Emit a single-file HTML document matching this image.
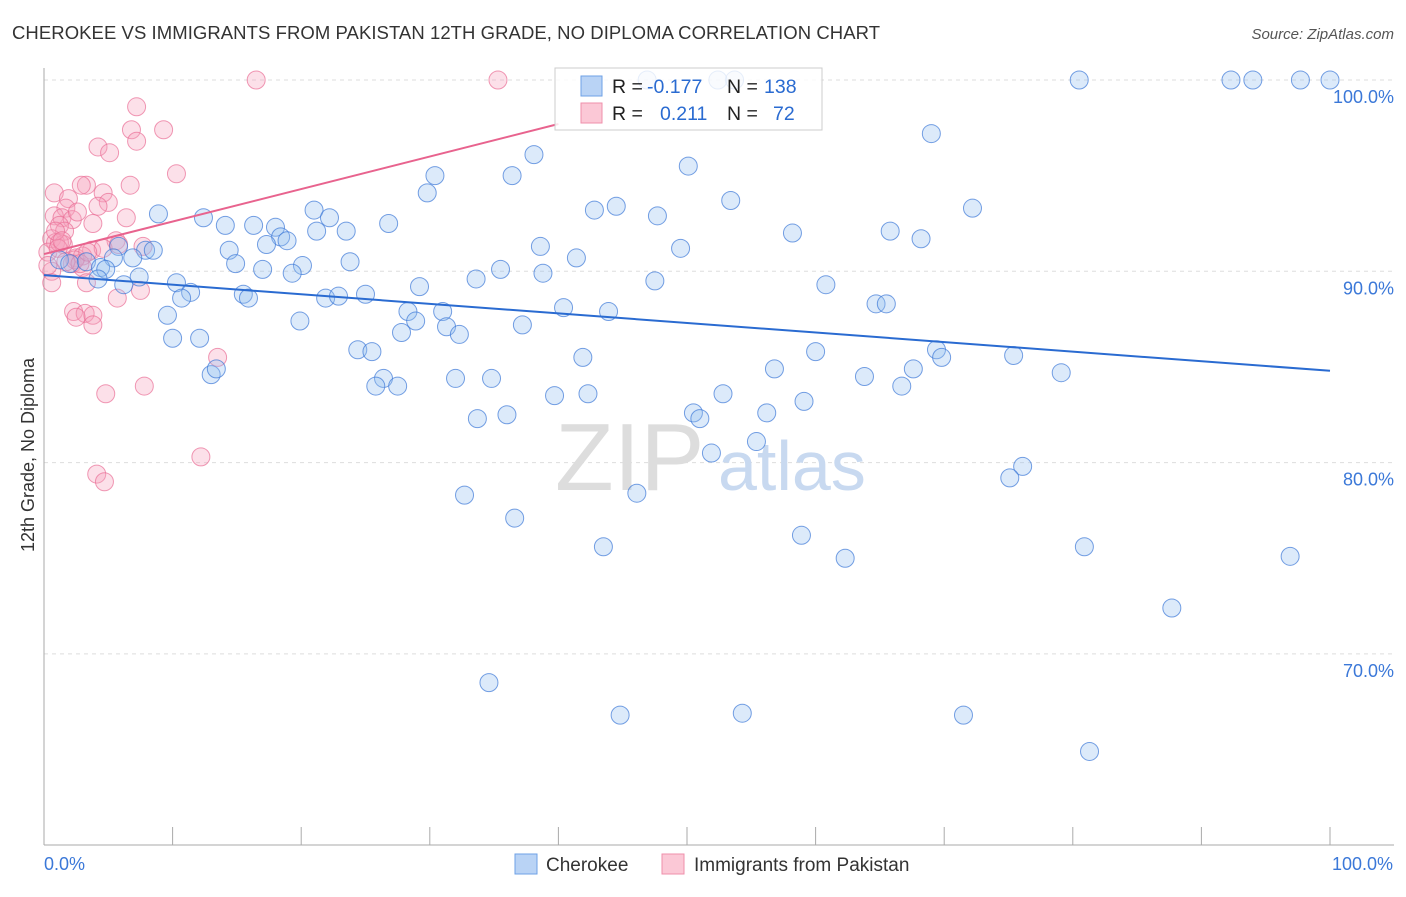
<!DOCTYPE html>
<html><head><meta charset="utf-8"><style>
body{margin:0;background:#fff;font-family:"Liberation Sans",sans-serif}
svg text{font-family:"Liberation Sans",sans-serif}
</style></head><body>
<svg id="chart" width="1406" height="892">
<text x="12" y="39" font-size="18.5" textLength="868" fill="#333">CHEROKEE VS IMMIGRANTS FROM PAKISTAN 12TH GRADE, NO DIPLOMA CORRELATION CHART</text>
<text x="1394" y="39" font-size="15" fill="#555" font-style="italic" text-anchor="end">Source: ZipAtlas.com</text>
<text x="34" y="455" font-size="18" fill="#333" text-anchor="middle" transform="rotate(-90 34 455)">12th Grade, No Diploma</text>
<g id="grid"></g>
<g id="axes"></g>
<text x="555" y="490" font-size="96" fill="#ddd" font-family="Liberation Serif">ZIP</text>
<text x="718" y="490" font-size="70" fill="#c8d9f0">atlas</text>
<g id="pts"></g>
<g id="lines"></g>
<g>
<rect x="555" y="68" width="267" height="62" fill="rgba(255,255,255,0.82)" stroke="#ccc"/>
<rect x="581" y="76" width="21" height="20" fill="#b9d3f5" stroke="#6ea0e6"/>
<rect x="581" y="103" width="21" height="20" fill="#fbc8d6" stroke="#ef8fab"/>
<g font-size="19.5">
<text x="612" y="93" fill="#222">R =</text><text x="647" y="93" fill="#2a6bd1">-0.177</text>
<text x="727" y="93" fill="#222">N =</text><text x="764" y="93" fill="#2a6bd1">138</text>
</g>
<g font-size="19.5">
<text x="612" y="120" fill="#222">R =</text><text x="660" y="120" fill="#2a6bd1">0.211</text>
<text x="727" y="120" fill="#222">N =</text><text x="773" y="120" fill="#2a6bd1">72</text>
</g>
</g>
<g>
<rect x="515" y="854" width="22" height="20" fill="#b9d3f5" stroke="#6ea0e6"/>
<text x="546" y="871" font-size="19" fill="#333">Cherokee</text>
<rect x="662" y="854" width="22" height="20" fill="#fbc8d6" stroke="#ef8fab"/>
<text x="694" y="871" font-size="19" fill="#333">Immigrants from Pakistan</text>
</g>
</svg>
<script>
const blueX=[46.9,52.4,53.7,80.5,92.3,94.0,97.7,100,69.0,38.1,50.1,36.4,30.4,29.8,53.4,44.5,42.8,72.2,47.7,8.9,21.0,12.4,22.2,14.1,16.3,26.8,18.0,21.2,23.5,18.4,18.9,65.8,58.2,68.2,38.6,49.5,14.4,17.3,7.9,8.5,5.8,41.4,6.9,5.4,1.2,2.0,3.3,4.4,4.8,14.9,23.8,20.1,17.0,19.3,35.5,38.8,33.6,47.5,60.8,29.2,7.4,6.2,4.2,10.3,11.4,10.7,15.5,15.9,21.9,22.9,25.0,28.3,31.0,40.4,43.9,64.7,65.5,9.6,19.9,28.9,31.3,32.3,37.2,27.8,10.0,12.1,24.4,25.5,60.0,69.4,69.8,75.4,41.9,13.0,13.4,26.4,27.5,25.8,32.0,34.8,56.8,67.6,63.8,66.7,79.1,39.7,42.3,52.8,59.1,56.2,50.5,51.0,36.0,33.7,55.4,51.9,76.1,75.1,32.7,46.1,36.6,43.5,58.9,80.9,62.3,96.9,87.7,34.6,44.8,54.3,71.5,81.3];
const blueY=[100,100,100,100,100,100,100,100,97.2,96.1,95.5,95.0,95.0,94.1,93.7,93.4,93.2,93.3,92.9,93.0,93.2,92.8,92.8,92.4,92.4,92.5,92.3,92.1,92.1,91.8,91.6,92.1,92.0,91.7,91.3,91.2,91.1,91.4,91.1,91.1,91.3,90.7,90.7,90.7,90.6,90.4,90.5,90.2,90.1,90.4,90.5,90.3,90.1,89.9,90.1,89.9,89.6,89.5,89.3,89.2,89.7,89.3,89.6,89.4,88.9,88.6,88.8,88.6,88.6,88.7,88.8,87.9,87.9,88.1,87.9,88.3,88.3,87.7,87.4,87.4,87.1,86.7,87.2,86.8,86.5,86.5,85.9,85.8,85.8,85.9,85.5,85.6,85.5,84.6,84.9,84.4,84.0,84.0,84.4,84.4,84.9,84.9,84.5,84.0,84.7,83.5,83.6,83.6,83.2,82.6,82.6,82.3,82.5,82.3,81.1,80.5,79.8,79.2,78.3,78.4,77.1,75.6,76.2,75.6,75.0,75.1,72.4,68.5,66.8,66.9,66.8,64.9];
const pinkX=[16.5,35.3,7.2,6.8,9.3,7.2,4.2,5.1,10.3,0.8,3.3,6.7,4.6,2.9,1.9,5.0,1.7,4.2,6.4,0.8,1.4,2.2,2.6,3.8,1.2,1.6,0.6,5.6,0.9,1.5,3.7,7.7,4.6,0.3,2.5,2.2,3.0,3.0,0.6,3.3,0.6,7.5,5.7,2.3,3.2,2.5,3.8,3.8,13.5,7.8,4.8,4.1,4.7,12.2,1.2,1.1,0.3,2.4,1.7,2.8,5.8,0.9,1.4,3.4];
const pinkY=[100,100,98.6,97.4,97.4,96.8,96.5,96.2,95.1,94.1,94.5,94.5,94.1,94.5,93.8,93.6,93.3,93.4,92.8,92.9,92.8,92.7,93.1,92.5,92.4,92.1,91.7,91.6,91.5,91.4,91.1,91.3,91.2,91.0,90.7,90.4,90.2,90.8,90.0,89.4,89.4,89.0,88.6,87.9,87.8,87.6,87.7,87.2,85.5,84.0,83.6,79.4,79.0,80.3,91.5,91.2,90.3,90.6,90.5,90.4,91.4,92.1,91.6,91.0];
const blueTrend=[[0,89.8],[100,84.8]];
const pinkTrend=[[0,90.9],[40,97.7]];
const yTicks=[100,90,80,70];
const yTickLabels=["100.0%","90.0%","80.0%","70.0%"];
const xTickVals=[0,10,20,30,40,50,60,70,80,90,100];
const xs=v=>44+v*12.86;
const ys=v=>80+(100-v)*19.13;
const NS="http://www.w3.org/2000/svg";
function mk(tag,attrs,parent){const e=document.createElementNS(NS,tag);for(const k in attrs)e.setAttribute(k,attrs[k]);parent.appendChild(e);return e;}
const grid=document.getElementById('grid'),axes=document.getElementById('axes'),pts=document.getElementById('pts'),lines=document.getElementById('lines');
yTicks.forEach((t,i)=>{
 const l=mk('line',{x1:44,x2:1394,y1:ys(t),y2:ys(t),stroke:'#ddd','stroke-dasharray':'4,4'},grid);
 
 
 const tx=mk('text',{x:1394,y:ys(t)+23,'font-size':18,fill:'#3b78d8','text-anchor':'end'},axes);
 tx.textContent=yTickLabels[i];
 
 
});
let a=mk('line',{x1:44,x2:44,y1:68,y2:845,stroke:'#aaa'},axes);


a=mk('line',{x1:44,x2:1394,y1:845,y2:845,stroke:'#aaa'},axes);


xTickVals.forEach(t=>{
 const l=mk('line',{x1:xs(t),x2:xs(t),y1:827,y2:845,stroke:'#aaa'},axes);
 
 
});
let t=mk('text',{x:44,y:870,'font-size':18,fill:'#3b78d8'},axes);t.textContent='0.0%';


t=mk('text',{x:1393,y:870,'font-size':18,fill:'#3b78d8','text-anchor':'end'},axes);t.textContent='100.0%';


pinkX.forEach((x,i)=>{
 const c=mk('circle',{cx:xs(x),cy:ys(pinkY[i]),r:9,fill:'rgba(247,160,187,0.33)',stroke:'rgba(234,110,150,0.7)','stroke-width':1},pts);
 
 
});
blueX.forEach((x,i)=>{
 const c=mk('circle',{cx:xs(x),cy:ys(blueY[i]),r:9,fill:'rgba(150,190,240,0.33)',stroke:'rgba(60,120,215,0.7)','stroke-width':1},pts);
 
 
});
let ln=mk('line',{x1:xs(blueTrend[0][0]),y1:ys(blueTrend[0][1]),x2:xs(blueTrend[1][0]),y2:ys(blueTrend[1][1]),stroke:'#2a6bd1','stroke-width':2},lines);


ln=mk('line',{x1:xs(pinkTrend[0][0]),y1:ys(pinkTrend[0][1]),x2:xs(pinkTrend[1][0]),y2:ys(pinkTrend[1][1]),stroke:'#e8638e','stroke-width':2},lines);


</script>
</body></html>
